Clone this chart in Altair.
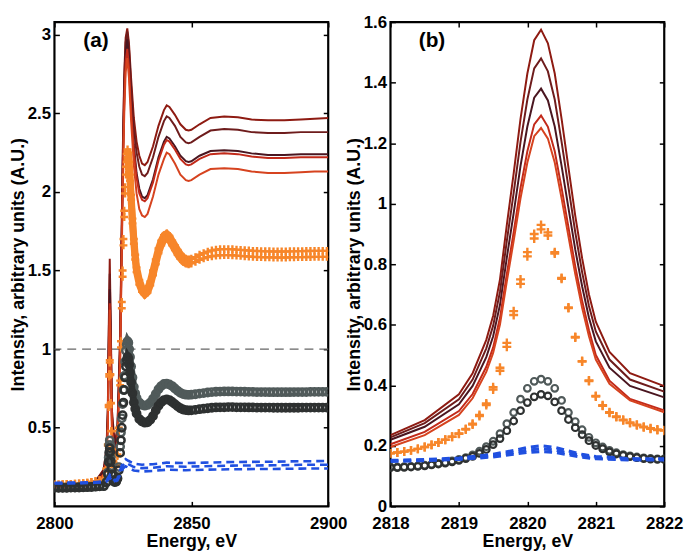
import altair as alt
import pandas as pd

# ---------------- Panel (a): 2800-2900 eV ----------------
E_red_a = [2800, 2810, 2815, 2818, 2819, 2819.5, 2819.8, 2820.2, 2820.6, 2821, 2822, 2823, 2824, 2824.5, 2825,
           2825.5, 2826, 2826.6, 2827.2, 2828, 2829, 2830, 2831, 2832, 2833, 2834, 2836, 2838, 2840, 2841,
           2842, 2844, 2846, 2848, 2849, 2850, 2853, 2857, 2862, 2867, 2872, 2878, 2884, 2890, 2895, 2900]
red_a1 = [0.13, 0.14, 0.16, 0.235, 0.37, 0.63, 1.10, 1.575, 1.12, 0.61, 0.40, 0.5, 1.1, 1.7, 2.3,
          2.75, 2.98, 3.04, 2.95, 2.72, 2.47, 2.32, 2.23, 2.18, 2.17, 2.19, 2.29, 2.42, 2.52, 2.55,
          2.54, 2.49, 2.43, 2.395, 2.39, 2.395, 2.43, 2.47, 2.48, 2.475, 2.46, 2.455, 2.455, 2.46, 2.465, 2.47]
red_a2 = [0.13, 0.14, 0.16, 0.228, 0.354, 0.597, 1.036, 1.48, 1.055, 0.578, 0.379, 0.48, 1.05, 1.65, 2.25,
          2.7, 2.95, 3.02, 2.92, 2.67, 2.41, 2.25, 2.16, 2.11, 2.10, 2.12, 2.22, 2.35, 2.45, 2.48,
          2.47, 2.42, 2.35, 2.315, 2.31, 2.315, 2.35, 2.39, 2.40, 2.395, 2.38, 2.375, 2.375, 2.38, 2.38, 2.38]
red_a3 = [0.13, 0.14, 0.155, 0.22, 0.337, 0.562, 0.969, 1.38, 0.986, 0.545, 0.36, 0.46, 1.0, 1.6, 2.2,
          2.62, 2.88, 2.97, 2.86, 2.58, 2.3, 2.12, 2.02, 1.97, 1.96, 1.98, 2.08, 2.22, 2.32, 2.35,
          2.34, 2.29, 2.23, 2.195, 2.19, 2.195, 2.23, 2.26, 2.265, 2.26, 2.245, 2.235, 2.235, 2.24, 2.24, 2.24]
red_a4 = [0.125, 0.135, 0.15, 0.205, 0.315, 0.525, 0.906, 1.291, 0.922, 0.50, 0.317, 0.42, 0.95, 1.55, 2.15,
          2.58, 2.83, 2.91, 2.8, 2.53, 2.26, 2.09, 1.99, 1.95, 1.94, 1.96, 2.06, 2.2, 2.3, 2.33,
          2.32, 2.27, 2.21, 2.175, 2.17, 2.175, 2.21, 2.24, 2.245, 2.24, 2.225, 2.215, 2.215, 2.22, 2.22, 2.22]
red_a5 = [0.12, 0.13, 0.145, 0.196, 0.302, 0.507, 0.877, 1.25, 0.892, 0.485, 0.311, 0.41, 0.92, 1.5, 2.08,
          2.5, 2.76, 2.85, 2.73, 2.45, 2.17, 1.99, 1.89, 1.85, 1.84, 1.86, 1.97, 2.11, 2.21, 2.25,
          2.24, 2.18, 2.11, 2.075, 2.07, 2.075, 2.11, 2.145, 2.15, 2.145, 2.13, 2.12, 2.12, 2.125, 2.13, 2.13]

E_mk_a = [2800, 2801.5, 2803, 2804.5, 2806, 2807.5, 2809, 2810.5, 2812, 2813.5, 2815, 2816.5, 2818,
          2819, 2819.5, 2819.8, 2820.0, 2820.2, 2820.4, 2820.6, 2820.8, 2821.0, 2821.5, 2822,
          2822.5, 2823, 2823.5, 2824,
          2824.3, 2824.6, 2824.9, 2825.2, 2825.5, 2825.8, 2826.1, 2826.4, 2826.7, 2827.0, 2827.3, 2827.6,
          2828, 2828.5, 2829, 2829.5, 2830,
          2831, 2832, 2833, 2834, 2835, 2836, 2837, 2838, 2839, 2840,
          2841, 2842, 2843, 2844, 2845, 2846, 2847, 2848, 2849, 2850,
          2851.5, 2853, 2854.5, 2856, 2857.5, 2859, 2860.5, 2862, 2863.5, 2865, 2866.5,
          2868, 2869.5, 2871, 2872.5, 2874, 2875.5, 2877, 2878.5, 2880, 2881.5, 2883,
          2884.5, 2886, 2887.5, 2889, 2890.5, 2892, 2893.5, 2895, 2896.5, 2898, 2899.5]
orange_a1 = [0.14, 0.14, 0.141, 0.142, 0.143, 0.144, 0.146, 0.148, 0.151, 0.155, 0.16, 0.166, 0.175,
             0.241, 0.394, 0.645, 0.84, 0.93, 0.84, 0.657, 0.48, 0.365, 0.277, 0.252,
             0.27, 0.33, 0.5, 0.8,
             1.05, 1.3, 1.5, 1.7, 1.88, 2.03, 2.16, 2.24, 2.27, 2.25, 2.19, 2.11,
             1.98, 1.83, 1.7, 1.6, 1.52,
             1.44, 1.39, 1.37, 1.385, 1.43, 1.5, 1.57, 1.64, 1.69, 1.725,
             1.735, 1.72, 1.69, 1.66, 1.63, 1.605, 1.585, 1.575, 1.57, 1.575,
             1.585, 1.6, 1.61, 1.62, 1.627, 1.632, 1.635, 1.636, 1.636, 1.635, 1.633,
             1.631, 1.629, 1.627, 1.625, 1.624, 1.623, 1.622, 1.622, 1.621, 1.621, 1.621,
             1.621, 1.622, 1.622, 1.623, 1.623, 1.624, 1.624, 1.625, 1.625, 1.625, 1.625]
orange_a2 = [0.14, 0.14, 0.141, 0.142, 0.143, 0.144, 0.146, 0.148, 0.151, 0.155, 0.16, 0.166, 0.175,
             0.24, 0.386, 0.632, 0.826, 0.915, 0.835, 0.655, 0.478, 0.363, 0.275, 0.25,
             0.265, 0.32, 0.48, 0.77,
             1.01, 1.26, 1.46, 1.66, 1.84, 1.99, 2.11, 2.19, 2.22, 2.2, 2.15, 2.07,
             1.95, 1.8, 1.67, 1.57, 1.49,
             1.41, 1.365, 1.345, 1.36, 1.405, 1.47, 1.54, 1.61, 1.66, 1.695,
             1.705, 1.69, 1.66, 1.63, 1.6, 1.575, 1.555, 1.545, 1.54, 1.545,
             1.555, 1.568, 1.577, 1.585, 1.591, 1.595, 1.597, 1.598, 1.598, 1.597, 1.595,
             1.593, 1.591, 1.589, 1.587, 1.586, 1.585, 1.584, 1.584, 1.583, 1.583, 1.583,
             1.583, 1.584, 1.584, 1.585, 1.585, 1.586, 1.586, 1.587, 1.587, 1.587, 1.587]
grey_a1 = [0.12, 0.12, 0.12, 0.12, 0.121, 0.121, 0.122, 0.123, 0.124, 0.125, 0.127, 0.129, 0.13,
           0.155, 0.215, 0.31, 0.39, 0.42, 0.39, 0.31, 0.253, 0.21, 0.167, 0.157,
           0.16, 0.18, 0.25, 0.38,
           0.47, 0.56, 0.65, 0.74, 0.83, 0.92, 0.99, 1.03, 1.05, 1.04, 1.0, 0.95,
           0.89, 0.82, 0.76, 0.72, 0.69,
           0.66, 0.645, 0.64, 0.645, 0.66, 0.685, 0.715, 0.745, 0.765, 0.778,
           0.78, 0.775, 0.765, 0.75, 0.735, 0.722, 0.714, 0.71, 0.709, 0.71,
           0.713, 0.717, 0.72, 0.724, 0.727, 0.729, 0.73, 0.731, 0.731, 0.731, 0.73,
           0.73, 0.729, 0.728, 0.728, 0.727, 0.727, 0.727, 0.726, 0.726, 0.726, 0.726,
           0.726, 0.726, 0.727, 0.727, 0.727, 0.727, 0.728, 0.728, 0.728, 0.728, 0.728]
grey_a2 = [0.118, 0.118, 0.118, 0.118, 0.119, 0.119, 0.12, 0.121, 0.122, 0.123, 0.125, 0.127, 0.128,
           0.152, 0.204, 0.282, 0.343, 0.37, 0.345, 0.287, 0.237, 0.201, 0.164, 0.155,
           0.157, 0.175, 0.23, 0.34,
           0.42, 0.5, 0.58, 0.66, 0.74, 0.82, 0.89, 0.93, 0.95, 0.94, 0.9, 0.85,
           0.79, 0.72, 0.66, 0.62, 0.59,
           0.555, 0.54, 0.532, 0.535, 0.55, 0.575, 0.61, 0.64, 0.662, 0.676,
           0.68, 0.676, 0.664, 0.65, 0.636, 0.624, 0.616, 0.612, 0.61, 0.611,
           0.614, 0.618, 0.621, 0.624, 0.627, 0.629, 0.63, 0.63, 0.631, 0.631, 0.63,
           0.63, 0.63, 0.629, 0.629, 0.628, 0.628, 0.628, 0.628, 0.627, 0.627, 0.627,
           0.627, 0.627, 0.627, 0.627, 0.628, 0.628, 0.628, 0.628, 0.628, 0.628, 0.628]
# index range of the densely sampled section (2826.4 .. 2850 eV) that reads as a solid band
BAND_A = (35, 65)

E_blue_a = [2800, 2810, 2815, 2818, 2819, 2820.2, 2821, 2822, 2823, 2824, 2825, 2826, 2827, 2829,
            2832, 2836, 2841, 2848, 2855, 2865, 2880, 2890, 2900]
blue_a1 = [0.15, 0.152, 0.155, 0.16, 0.165, 0.2, 0.18, 0.165, 0.175, 0.23, 0.28, 0.3, 0.29, 0.272,
           0.265, 0.268, 0.278, 0.275, 0.278, 0.282, 0.284, 0.287, 0.288]
blue_a2 = [0.147, 0.149, 0.152, 0.155, 0.16, 0.19, 0.175, 0.16, 0.17, 0.21, 0.26, 0.278, 0.268, 0.25,
           0.243, 0.246, 0.255, 0.252, 0.255, 0.259, 0.261, 0.264, 0.265]
blue_a3 = [0.145, 0.147, 0.15, 0.153, 0.157, 0.181, 0.168, 0.157, 0.165, 0.2, 0.24, 0.255, 0.245, 0.228,
           0.222, 0.225, 0.233, 0.23, 0.233, 0.236, 0.238, 0.24, 0.241]

ref_level = [1.0]

# ---------------- Panel (b): 2818-2822 eV ----------------
E_red_b = [2818.0, 2818.5, 2819.0, 2819.2, 2819.4, 2819.5, 2819.6, 2819.7, 2819.8, 2819.9, 2820.0, 2820.1,
           2820.2, 2820.3, 2820.4, 2820.5, 2820.6, 2820.7, 2820.8, 2820.9, 2821.0, 2821.2, 2821.5, 2822.0]
red_b1 = [0.235, 0.285, 0.37, 0.44, 0.55, 0.63, 0.75, 0.93, 1.10, 1.28, 1.43, 1.54,
          1.575, 1.53, 1.43, 1.28, 1.12, 0.96, 0.82, 0.70, 0.61, 0.51, 0.44, 0.397]
red_b2 = [0.228, 0.275, 0.354, 0.419, 0.522, 0.597, 0.709, 0.877, 1.036, 1.204, 1.344, 1.447,
          1.48, 1.437, 1.344, 1.204, 1.055, 0.905, 0.774, 0.662, 0.578, 0.485, 0.419, 0.379]
red_b3 = [0.220, 0.263, 0.337, 0.398, 0.493, 0.562, 0.666, 0.822, 0.969, 1.125, 1.255, 1.350,
          1.380, 1.341, 1.255, 1.125, 0.986, 0.848, 0.727, 0.623, 0.545, 0.458, 0.398, 0.360]
red_b4 = [0.205, 0.246, 0.315, 0.371, 0.461, 0.525, 0.623, 0.768, 0.906, 1.052, 1.173, 1.262,
          1.291, 1.254, 1.173, 1.052, 0.922, 0.793, 0.679, 0.582, 0.50, 0.415, 0.355, 0.317]
red_b5 = [0.196, 0.235, 0.302, 0.357, 0.444, 0.507, 0.601, 0.743, 0.877, 1.018, 1.136, 1.223,
          1.25, 1.215, 1.136, 1.018, 0.892, 0.767, 0.656, 0.562, 0.485, 0.405, 0.35, 0.311]

E_mk_b = [2818.0, 2818.1, 2818.2, 2818.3, 2818.4, 2818.5, 2818.6, 2818.7, 2818.8, 2818.9,
          2819.0, 2819.1, 2819.2, 2819.3, 2819.4, 2819.5, 2819.6, 2819.7, 2819.8, 2819.9,
          2820.0, 2820.1, 2820.2, 2820.3, 2820.4, 2820.5, 2820.6, 2820.7, 2820.8, 2820.9,
          2821.0, 2821.1, 2821.2, 2821.3, 2821.4, 2821.5, 2821.6, 2821.7, 2821.8, 2821.9, 2822.0]
orange_b1 = [0.175, 0.178, 0.181, 0.185, 0.19, 0.196, 0.203, 0.211, 0.22, 0.23,
             0.241, 0.256, 0.273, 0.302, 0.34, 0.394, 0.458, 0.54, 0.645, 0.75,
             0.84, 0.90, 0.93, 0.905, 0.84, 0.755, 0.657, 0.56, 0.48, 0.416,
             0.365, 0.334, 0.311, 0.297, 0.286, 0.277, 0.27, 0.263, 0.258, 0.254, 0.252]
orange_b2 = [0.175, 0.178, 0.181, 0.185, 0.19, 0.196, 0.203, 0.211, 0.22, 0.23,
             0.24, 0.254, 0.27, 0.298, 0.335, 0.386, 0.448, 0.527, 0.632, 0.735,
             0.826, 0.885, 0.915, 0.895, 0.835, 0.752, 0.655, 0.558, 0.478, 0.414,
             0.363, 0.332, 0.309, 0.295, 0.284, 0.275, 0.268, 0.261, 0.256, 0.252, 0.25]
grey_b1 = [0.13, 0.13, 0.131, 0.132, 0.134, 0.136, 0.139, 0.142, 0.146, 0.15,
           0.155, 0.161, 0.17, 0.182, 0.197, 0.215, 0.24, 0.273, 0.31, 0.354,
           0.39, 0.413, 0.42, 0.413, 0.39, 0.35, 0.31, 0.28, 0.253, 0.228,
           0.21, 0.196, 0.185, 0.177, 0.171, 0.167, 0.163, 0.16, 0.158, 0.157, 0.157]
grey_b2 = [0.128, 0.128, 0.129, 0.13, 0.132, 0.134, 0.137, 0.14, 0.143, 0.147,
           0.152, 0.158, 0.165, 0.175, 0.188, 0.204, 0.224, 0.25, 0.282, 0.316,
           0.343, 0.362, 0.37, 0.365, 0.345, 0.316, 0.287, 0.26, 0.237, 0.217,
           0.201, 0.19, 0.18, 0.173, 0.168, 0.164, 0.161, 0.158, 0.156, 0.155, 0.155]

E_blue_b = [2818, 2818.5, 2819, 2819.5, 2819.8, 2820, 2820.2, 2820.4, 2820.6, 2820.8, 2821, 2821.5, 2822]
blue_b1 = [0.152, 0.155, 0.16, 0.172, 0.185, 0.195, 0.2, 0.195, 0.183, 0.172, 0.165, 0.158, 0.157]
blue_b2 = [0.15, 0.153, 0.157, 0.167, 0.178, 0.186, 0.19, 0.186, 0.176, 0.167, 0.16, 0.155, 0.155]
blue_b3 = [0.148, 0.151, 0.155, 0.163, 0.172, 0.178, 0.181, 0.178, 0.17, 0.162, 0.157, 0.153, 0.153]

# ---------------- styling ----------------
FONT = "Liberation Sans"
W, H = 277, 490
red_colors = ["#8E1B12", "#6E1C1C", "#4A1620", "#C22A1A", "#D6431F"]
orange_color = "#F7862A"
grey_colors = ["#505A5A", "#2E3131"]
blue_color = "#2050E0"
PLUS = "M-1,0H1M0,-1V1"


def df(x, y):
    return pd.DataFrame({"E": x, "v": y})


def build_panel(xdom, ydom, xticks, yticks, red_E, reds, mk_E, oranges, greys,
                blue_E, blues, label, ref, plus_size, circ_size, circ_sw, band=None,
                blue_width=3):
    xs = alt.Scale(domain=xdom, nice=False, zero=False)
    ys = alt.Scale(domain=ydom, nice=False, zero=False)

    def enc(ch):
        return ch.encode(x=alt.X("E:Q", scale=xs, axis=None),
                         y=alt.Y("v:Q", scale=ys, axis=None))

    layers = []
    if ref:
        layers.append(alt.Chart(pd.DataFrame({"v": ref})).mark_rule(
            color="#666666", strokeDash=[9, 6], strokeWidth=1.2).encode(
            y=alt.Y("v:Q", scale=ys, axis=None)))
    for vals, col in zip(reds, red_colors):
        layers.append(enc(alt.Chart(df(red_E, vals)).mark_line(
            color=col, strokeWidth=2, clip=True)))
    for vals in oranges:
        if band:
            i0, i1 = band
            layers.append(enc(alt.Chart(df(mk_E[i0:i1], vals[i0:i1])).mark_line(
                color=orange_color, strokeWidth=7, clip=True)))
        layers.append(enc(alt.Chart(df(mk_E, vals)).mark_point(
            shape=PLUS, filled=False, color=orange_color, size=plus_size,
            strokeWidth=2.4, opacity=1, clip=True)))
    for vals, col in zip(greys, grey_colors):
        if band:
            i0, i1 = band
            layers.append(enc(alt.Chart(df(mk_E[i0:i1], vals[i0:i1])).mark_line(
                color=col, strokeWidth=7, clip=True)))
        layers.append(enc(alt.Chart(df(mk_E, vals)).mark_point(
            shape="circle", filled=False, color=col, size=circ_size,
            strokeWidth=circ_sw, opacity=1, clip=True)))
    for vals in blues:
        layers.append(enc(alt.Chart(df(blue_E, vals)).mark_line(
            color=blue_color, strokeWidth=blue_width, strokeDash=[8, 5], clip=True)))
    layers.append(alt.Chart(pd.DataFrame({"t": [label]})).mark_text(
        fontSize=21, fontWeight="bold", font=FONT, color="black",
        align="center", baseline="middle").encode(
        text="t:N", x=alt.value(42), y=alt.value(19)))

    corner = pd.DataFrame({"E": xdom, "v": ydom})
    base = alt.Chart(corner).mark_point(opacity=0, size=1)
    main = base.encode(
        x=alt.X("E:Q", scale=xs, axis=alt.Axis(
            orient="bottom", values=xticks, format="d", title="Energy, eV",
            ticks=False, tickSize=0, domain=False, grid=False, labelFlush=False,
            labelPadding=9, titlePadding=2)),
        y=alt.Y("v:Q", scale=ys, axis=alt.Axis(
            orient="left", values=yticks, format="~g",
            title="Intensity, arbitrary units (A.U.)",
            ticks=False, tickSize=0, domain=False, grid=False, labelFlush=False,
            labelPadding=4, titlePadding=0)))
    tick_kw = dict(labels=False, title=None, tickSize=5, offset=-5, domain=False,
                   grid=False, tickColor="black", tickWidth=1.5)
    inner1 = base.encode(
        x=alt.X("E:Q", scale=xs, axis=alt.Axis(orient="bottom", values=xticks, **tick_kw)),
        y=alt.Y("v:Q", scale=ys, axis=alt.Axis(orient="left", values=yticks, **tick_kw)))
    inner2 = base.encode(
        x=alt.X("E:Q", scale=xs, axis=alt.Axis(orient="top", values=xticks, **tick_kw)),
        y=alt.Y("v:Q", scale=ys, axis=alt.Axis(orient="right", values=yticks, **tick_kw)))

    return alt.layer(*layers, main, inner1, inner2).resolve_axis(
        x="independent", y="independent").properties(width=W, height=H)


panel_a = build_panel([2800, 2900], [0, 3.08], [2800, 2850, 2900], [0.5, 1, 1.5, 2, 2.5, 3],
                      E_red_a, [red_a1, red_a2, red_a3, red_a4, red_a5],
                      E_mk_a, [orange_a1, orange_a2], [grey_a1, grey_a2],
                      E_blue_a, [blue_a1, blue_a2, blue_a3], "(a)", ref_level,
                      plus_size=64, circ_size=55, circ_sw=2.5, band=BAND_A, blue_width=2.6)

panel_b = build_panel([2818, 2822], [0, 1.6], [2818, 2819, 2820, 2821, 2822],
                      [0, 0.2, 0.4, 0.6, 0.8, 1, 1.2, 1.4, 1.6],
                      E_red_b, [red_b1, red_b2, red_b3, red_b4, red_b5],
                      E_mk_b, [orange_b1, orange_b2], [grey_b1, grey_b2],
                      E_blue_b, [blue_b1, blue_b2, blue_b3], "(b)", None,
                      plus_size=81, circ_size=45, circ_sw=2.2)

chart = alt.hconcat(panel_a, panel_b, spacing=63, bounds="flush").properties(
    padding={"left": 0, "top": 0, "right": 0, "bottom": 0}
).configure(font=FONT).configure_view(
    stroke="black", strokeWidth=2.2
).configure_axis(
    labelFont=FONT, titleFont=FONT, labelFontSize=17, titleFontSize=18,
    labelFontWeight="bold", titleFontWeight="bold", labelColor="black",
    titleColor="black", grid=False
)

chart.save("out.html", embed_options={"renderer": "svg", "actions": False})
